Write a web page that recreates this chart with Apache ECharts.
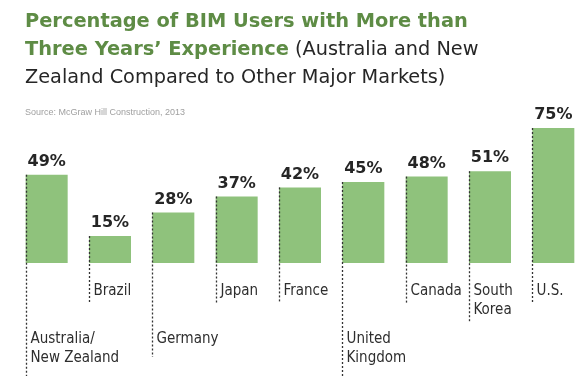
<!DOCTYPE html>
<html>
<head>
<meta charset="utf-8">
<script src="https://cdn.jsdelivr.net/npm/echarts@6/dist/echarts.min.js"></script>
<style>
    html, body { margin: 0; padding: 0; background: #fff; }
    #chart { width: 585px; height: 376px; }
</style>
</head>
<body>
<div id="chart"></div>
<script>
// 国家/地区
const markets = ['Australia/\nNew Zealand', 'Brazil', 'Germany', 'Japan', 'France', 'United\nKingdom', 'Canada', 'South\nKorea', 'U.S.']
// 三年以上经验的 BIM 用户比例 (%)
const experiencedShare = [49, 15, 28, 37, 42, 45, 48, 51, 75]
// 标签放在下面一行的市场
const lowLabelMarkets = ['Australia/\nNew Zealand', 'Germany', 'United\nKingdom']

const BAR_W = 42
const green = '#5e8c45'

const chart = echarts.init(document.getElementById('chart'))
chart.setOption({
    backgroundColor: '#fff',
    animation: false,
    title: [
        {
            left: 25,
            top: 8,
            padding: 0,
            text: '{g|Percentage of BIM Users with More than}\n{g|Three Years\u2019 Experience}{n| (Australia and New}\n{n|Zealand Compared to Other Major Markets)}',
            textStyle: {
                rich: {
                    g: { fontFamily: 'DejaVu Sans', fontWeight: 'bold', fontSize: 19.4, color: green, lineHeight: 28 },
                    n: { fontFamily: 'DejaVu Sans', fontWeight: 'normal', fontSize: 19.3, color: '#262626', lineHeight: 28 }
                }
            }
        },
        {
            left: 25,
            top: 108,
            padding: 0,
            text: 'Source: McGraw Hill Construction, 2013',
            textStyle: { fontFamily: 'Liberation Sans', fontSize: 9, color: '#a0a0a0', fontWeight: 'normal' }
        }
    ],
    grid: { left: 15, right: -2, top: 83, bottom: 113 },
    xAxis: {
        type: 'category',
        data: markets,
        show: false
    },
    yAxis: {
        type: 'value',
        min: 0,
        max: 100,
        show: false
    },
    series: [
        {
            type: 'bar',
            data: experiencedShare,
            barWidth: BAR_W,
            itemStyle: { color: '#8fc27c' },
            label: {
                show: true,
                position: 'top',
                distance: 5,
                formatter: '{c}%',
                fontFamily: 'DejaVu Sans',
                fontWeight: 'bold',
                fontSize: 16,
                color: '#262626'
            },
            z: 2
        },
        {
            // 虚线 + 类目标签
            type: 'custom',
            data: experiencedShare.map((v, i) => [i, v]),
            z: 3,
            renderItem (params, api) {
                const idx = api.value(0)
                const top = api.coord([idx, api.value(1)])
                const base = api.coord([idx, 0])
                const name = markets[idx]
                const lines = name.split('\n').length
                const low = lowLabelMarkets.includes(name)
                const x = Math.round(top[0] - BAR_W / 2) + 0.5
                const textTop = base[1] + (low ? 67 : 19)
                const lineEnd = textTop + lines * 19 + (low ? 8 : 2)
                return {
                    type: 'group',
                    children: [
                        {
                            type: 'line',
                            shape: { x1: x, y1: top[1], x2: x, y2: lineEnd },
                            style: { stroke: '#333', lineWidth: 1.3, lineDash: [2, 2] }
                        },
                        {
                            type: 'text',
                            x: x + 4,
                            y: textTop,
                            style: {
                                text: name,
                                fontFamily: 'DejaVu Sans Condensed, DejaVu Sans',
                                fontSize: 15,
                                lineHeight: 19,
                                fill: '#2e2e2e',
                                align: 'left',
                                verticalAlign: 'top'
                            }
                        }
                    ]
                }
            }
        }
    ]
})
</script>
</body>
</html>
